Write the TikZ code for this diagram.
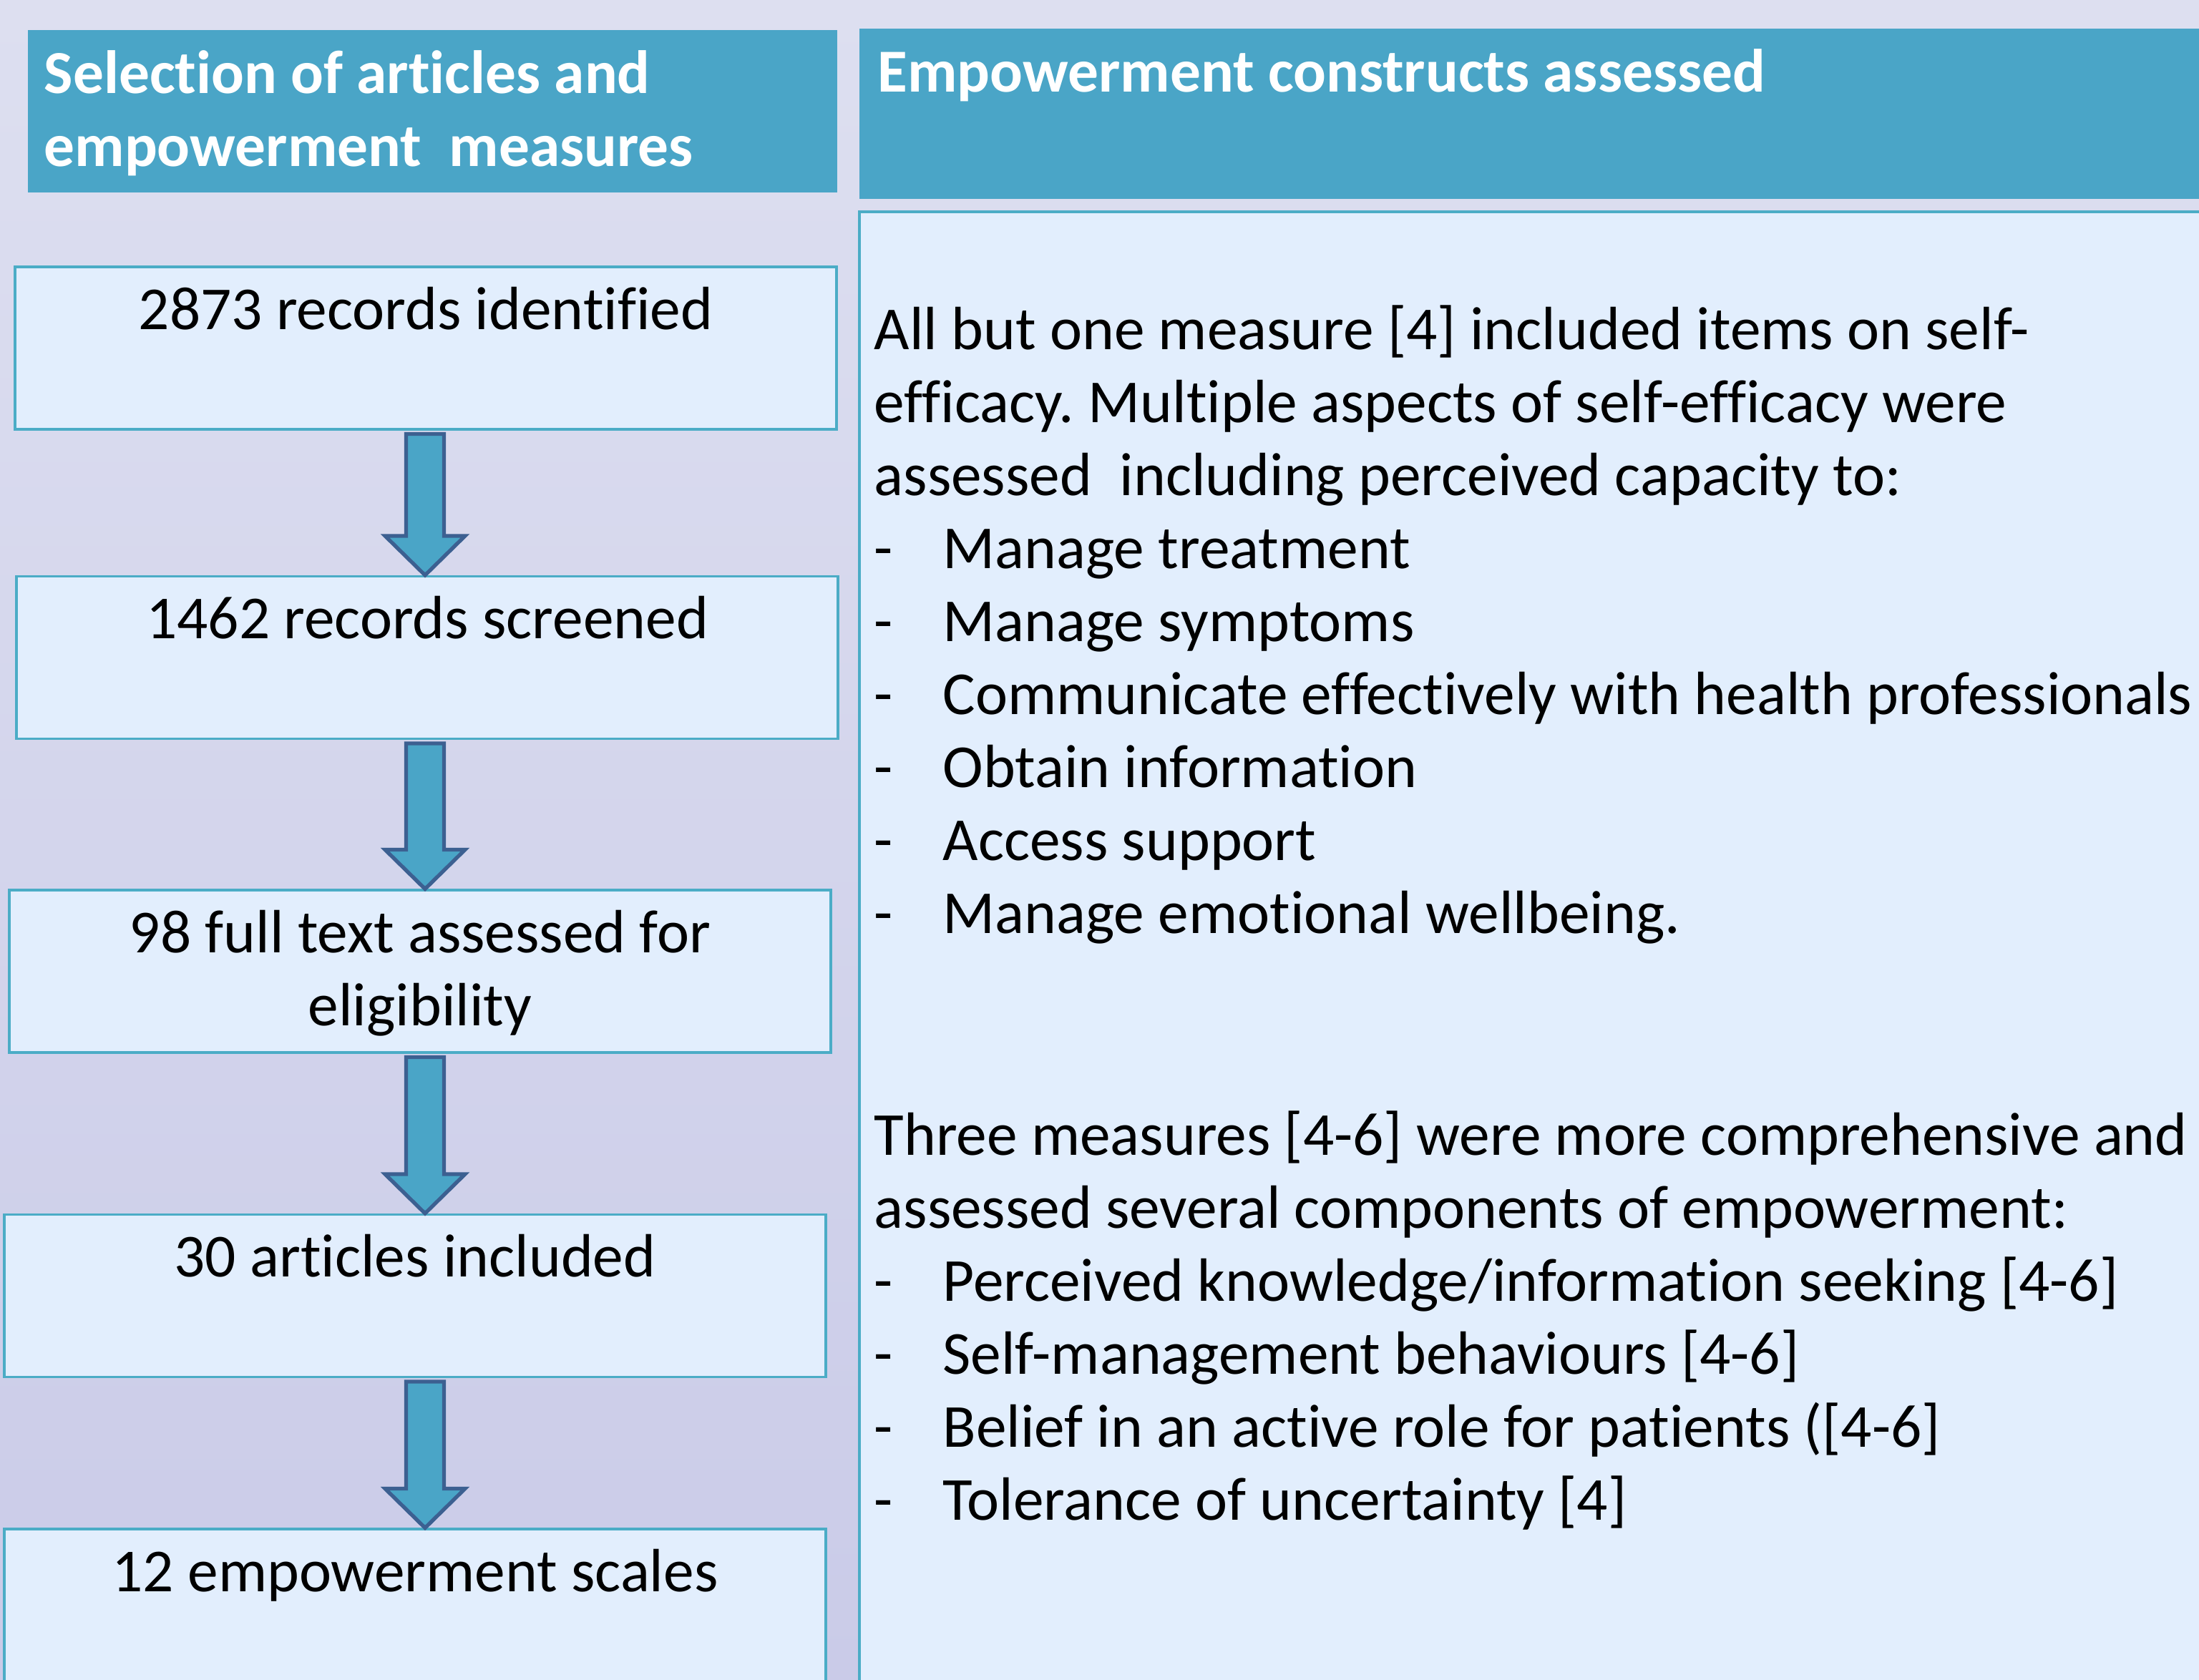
\documentclass[tikz,border=0pt]{standalone}
\usepackage{fontspec}
\setmainfont[Ligatures=NoCommon]{Carlito}
\frenchspacing
\usetikzlibrary{calc}

\definecolor{bgtop}{RGB}{221,223,240}
\definecolor{bgbot}{RGB}{202,203,232}
\definecolor{headblue}{RGB}{74,165,199}
\definecolor{boxfill}{RGB}{226,238,253}
\definecolor{boxline}{RGB}{75,172,198}
\definecolor{arrowline}{RGB}{60,96,145}

% block arrow from the bottom of one stage to the top of the next
\newcommand{\flowarrow}[2]{%
  \draw[flow] let \p1=(#1.south), \p2=(#2.north) in
    (5.675cm,\y1-0.05cm) -- (5.675cm,\y2+0.55cm) -- (5.38cm,\y2+0.55cm) -- (5.94cm,\y2)
    -- (6.50cm,\y2+0.55cm) -- (6.205cm,\y2+0.55cm) -- (6.205cm,\y1-0.05cm) -- cycle;}

\begin{document}
\begin{tikzpicture}[
  every node/.style={font=\fontsize{24.3}{29.02}\selectfont},
  head/.style={fill=headblue, draw=none, inner sep=0},
  headtext/.style={anchor=base west, align=left, text=white, font=\fontsize{24.3}{29.3}\selectfont\bfseries, inner sep=0},
  stage/.style={fill=boxfill, draw=boxline, line width=0.9pt, minimum width=11.48cm, minimum height=2.27cm, inner sep=0},
  stagetext/.style={anchor=base, align=center, inner sep=0},
  panel/.style={fill=boxfill, draw=boxline, line width=1pt, inner sep=0},
  bodytext/.style={anchor=base west, align=left, inner sep=0},
  flow/.style={fill=headblue, draw=arrowline, line width=1.5pt, line join=miter}]
  \useasboundingbox (0,0) rectangle (30.73,-23.48);
  \shade[top color=bgtop, bottom color=bgbot] (0,0) rectangle (30.73,-23.48);
  % column headers (multi-line texts sit on their last baseline)
  \node[head, minimum width=11.31cm, minimum height=2.27cm] (hsel) at (6.045,-1.555) {};
  \node[headtext] (hselt) at (0.61,-2.33) {Selection of articles and\\empowerment\ \ measures};
  \node[head, minimum width=19.19cm, minimum height=2.38cm] (hemp) at (21.605,-1.59) {};
  \node[headtext] (hempt) at (12.26,-1.29) {Empowerment constructs assessed};
  % selection stages
  \node[stage] (s1) at (5.95,-4.865) {};
  \node[stage] (s2) at (5.97,-9.19) {};
  \node[stage] (s3) at (5.87,-13.575) {};
  \node[stage] (s4) at (5.80,-18.11) {};
  \node[stage] (s5) at (5.80,-22.505) {};
  \node[stagetext] (t1) at ([yshift=-0.89cm]s1.north) {2873 records identified};
  \node[stagetext] (t2) at ([yshift=-0.89cm]s2.north) {1462 records screened};
  \node[stagetext] (t3) at ([yshift=-1.91cm]s3.north) {98 full text assessed for\\eligibility};
  \node[stagetext] (t4) at ([yshift=-0.89cm]s4.north) {30 articles included};
  \node[stagetext] (t5) at ([yshift=-0.89cm]s5.north) {12 empowerment scales};
  % Draw the flow between stages
  \flowarrow{s1}{s2}
  \flowarrow{s2}{s3}
  \flowarrow{s3}{s4}
  \flowarrow{s4}{s5}
  % constructs panel
  \node[panel, minimum width=19.19cm, minimum height=20.84cm] (body) at (21.605,-13.38) {};
  \node[bodytext] (txt) at (12.21,-21.24) {%
    All but one measure [4] included items on self-\\
    efficacy. Multiple aspects of self-efficacy were\\
    assessed\ \ including perceived capacity to:\\
    \makebox[0.96cm][l]{-}Manage treatment\\
    \makebox[0.96cm][l]{-}Manage symptoms\\
    \makebox[0.96cm][l]{-}Communicate effectively with health professionals\\
    \makebox[0.96cm][l]{-}Obtain information\\
    \makebox[0.96cm][l]{-}Access support\\
    \makebox[0.96cm][l]{-}Manage emotional wellbeing.\\[2.08cm]
    Three measures [4-6] were more comprehensive and\\
    assessed several components of empowerment:\\
    \makebox[0.96cm][l]{-}Perceived knowledge/information seeking [4-6]\\
    \makebox[0.96cm][l]{-}Self-management behaviours [4-6]\\
    \makebox[0.96cm][l]{-}Belief in an active role for patients ([4-6]\\
    \makebox[0.96cm][l]{-}Tolerance of uncertainty [4]};
\end{tikzpicture}
\end{document}
